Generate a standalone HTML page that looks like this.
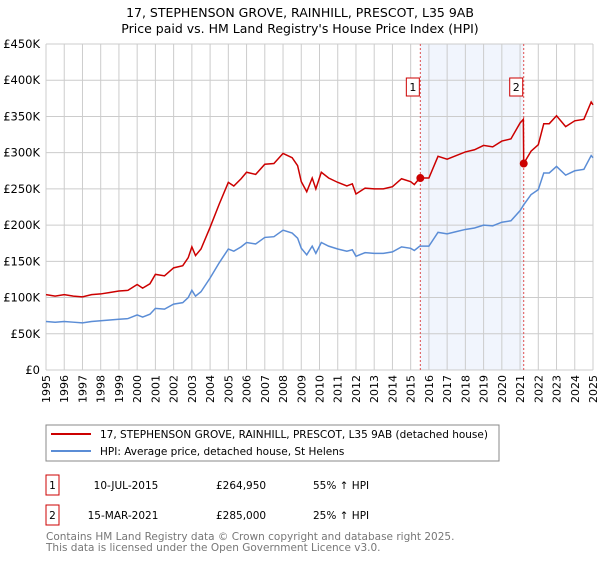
<!DOCTYPE html>
<html><head><meta charset="utf-8"><style>
body{margin:0;background:#fff;font-family:"DejaVu Sans","Liberation Sans",sans-serif}
svg text{font-family:"DejaVu Sans","Liberation Sans",sans-serif}
</style></head><body>
<svg id="chart" width="600" height="560" xmlns="http://www.w3.org/2000/svg">
<text x="300" y="17" text-anchor="middle" font-size="12.5" fill="#000">17, STEPHENSON GROVE, RAINHILL, PRESCOT, L35 9AB</text>
<text x="300" y="33" text-anchor="middle" font-size="12.5" fill="#000">Price paid vs. HM Land Registry's House Price Index (HPI)</text>
<g id="grid"></g><g id="marks"></g><g id="axes"></g>
<g>
<rect x="46" y="425" width="453" height="36" fill="#fff" stroke="#888"/>
<line x1="51" y1="434" x2="91" y2="434" stroke="#cc0000" stroke-width="2"/>
<text x="100" y="438" font-size="10.5">17, STEPHENSON GROVE, RAINHILL, PRESCOT, L35 9AB (detached house)</text>
<line x1="51" y1="451" x2="91" y2="451" stroke="#5b8dd6" stroke-width="2"/>
<text x="100" y="455" font-size="10.5">HPI: Average price, detached house, St Helens</text>
</g>
<g font-size="10.5">
<rect x="46" y="475" width="13" height="20" fill="#fff" stroke="#cc0000"/>
<text x="52.5" y="489" text-anchor="middle">1</text>
<text x="126" y="489" text-anchor="middle">10-JUL-2015</text>
<text x="216" y="489">£264,950</text>
<text x="313" y="489">55% ↑ HPI</text>
<rect x="46" y="505" width="13" height="20" fill="#fff" stroke="#cc0000"/>
<text x="52.5" y="519" text-anchor="middle">2</text>
<text x="123" y="519" text-anchor="middle">15-MAR-2021</text>
<text x="216" y="519">£285,000</text>
<text x="313" y="519">25% ↑ HPI</text>
</g>
<text x="46" y="540" font-size="10.5" fill="#777">Contains HM Land Registry data © Crown copyright and database right 2025.</text>
<text x="46" y="551" font-size="10.5" fill="#777">This data is licensed under the Open Government Licence v3.0.</text>
</svg>
<script>
const yTicks=[0,50,100,150,200,250,300,350,400,450];
const yTickLabels=["£0","£50K","£100K","£150K","£200K","£250K","£300K","£350K","£400K","£450K"];
const xYears=[1995,1996,1997,1998,1999,2000,2001,2002,2003,2004,2005,2006,2007,2008,2009,2010,2011,2012,2013,2014,2015,2016,2017,2018,2019,2020,2021,2022,2023,2024,2025];
const hpiT=[1995,1995.5,1996,1996.5,1997,1997.5,1998,1998.5,1999,1999.5,2000,2000.3,2000.7,2001,2001.5,2002,2002.5,2002.8,2003,2003.2,2003.5,2004,2004.5,2005,2005.3,2005.7,2006,2006.5,2007,2007.5,2008,2008.5,2008.8,2009,2009.3,2009.6,2009.8,2010.1,2010.5,2011,2011.5,2011.8,2012,2012.5,2013,2013.5,2014,2014.5,2015,2015.2,2015.5,2016,2016.5,2017,2017.5,2018,2018.5,2019,2019.5,2020,2020.5,2021,2021.2,2021.6,2022,2022.3,2022.6,2023,2023.5,2024,2024.5,2024.9,2025];
const hpiV=[67,66,67,66,65,67,68,69,70,71,76,73,77,85,84,91,93,100,110,102,108,127,148,167,164,170,176,174,183,184,193,189,182,168,159,171,161,176,171,167,164,166,157,162,161,161,163,170,168,165,171,171,190,188,191,194,196,200,199,204,206,220,228,242,249,272,272,281,269,275,277,296,293];
const propT=[1995,1995.5,1996,1996.5,1997,1997.5,1998,1998.5,1999,1999.5,2000,2000.3,2000.7,2001,2001.5,2002,2002.5,2002.8,2003,2003.2,2003.5,2004,2004.5,2005,2005.3,2005.7,2006,2006.5,2007,2007.5,2008,2008.5,2008.8,2009,2009.3,2009.6,2009.8,2010.1,2010.5,2011,2011.5,2011.8,2012,2012.5,2013,2013.5,2014,2014.5,2015,2015.2,2015.5,2016,2016.5,2017,2017.5,2018,2018.5,2019,2019.5,2020,2020.5,2021,2021.18,2021.2,2021.6,2022,2022.3,2022.6,2023,2023.5,2024,2024.5,2024.9,2025];
const propV=[104,102,104,102,101,104,105,107,109,110,118,113,119,132,130,141,144,155,170,158,167,197,229,259,254,264,273,270,284,285,299,293,282,260,246,265,250,273,265,259,254,257,243,251,250,250,253,264,260,256,265,265,295,291,296,301,304,310,308,316,319,341,346,285,302,311,340,340,351,336,344,346,370,366];
const saleT=[2015.53,2021.2];
const saleV=[264.95,285];
const saleLabels=["1","2"];

const NS="http://www.w3.org/2000/svg";
const X0=46,X1=593,Y0=370,Y1=44;
const xs=t=>X0+(t-1995)/(2025-1995)*(X1-X0);
const ys=v=>Y0-v/450*(Y0-Y1);
function mk(tag,attrs,parent){const e=document.createElementNS(NS,tag);for(const k in attrs)e.setAttribute(k,attrs[k]);parent.appendChild(e);return e;}
const grid=document.getElementById('grid'),marks=document.getElementById('marks'),axes=document.getElementById('axes');
const band=mk('rect',{x:xs(saleT[0]),y:Y1,width:xs(saleT[1])-xs(saleT[0]),height:Y0-Y1,fill:'#eef3fc',opacity:0.8},grid);


xYears.forEach(y=>{const l=mk('line',{x1:xs(y),x2:xs(y),y1:Y1,y2:Y0,stroke:'#ccc','stroke-width':1},grid);


const t=mk('text',{x:0,y:0,'font-size':11,'text-anchor':'end',transform:`translate(${xs(y)+4},${Y0+5}) rotate(-90)`},axes);
t.textContent=String(y);

});
yTicks.forEach((v,i)=>{const l=mk('line',{x1:X0,x2:X1,y1:ys(v),y2:ys(v),stroke:'#ccc','stroke-width':1},grid);


const t=mk('text',{x:X0-6,y:ys(v)+4,'font-size':11.5,'text-anchor':'end'},axes);
t.textContent=yTickLabels[i];

});
saleT.forEach((s,i)=>{const l=mk('line',{x1:xs(s),x2:xs(s),y1:Y1,y2:Y0,stroke:'#e05050','stroke-width':1,'stroke-dasharray':'2,2'},marks);


const r=mk('rect',{x:xs(s)-14,y:78,width:13,height:18,fill:'#fff',stroke:'#cc0000'},marks);


const t=mk('text',{x:xs(s)-7.5,y:91,'font-size':11,'text-anchor':'middle'},marks);
t.textContent=saleLabels[i];

});
const hp=mk('polyline',{points:hpiT.map((t,i)=>xs(t)+','+ys(hpiV[i])).join(' '),fill:'none',stroke:'#5b8dd6','stroke-width':1.5},marks);


const pp=mk('polyline',{points:propT.map((t,i)=>xs(t)+','+ys(propV[i])).join(' '),fill:'none',stroke:'#cc0000','stroke-width':1.5},marks);


saleT.forEach((s,i)=>{const c=mk('circle',{cx:xs(s),cy:ys(saleV[i]),r:4,fill:'#cc0000'},marks);

});
</script>
</body></html>
